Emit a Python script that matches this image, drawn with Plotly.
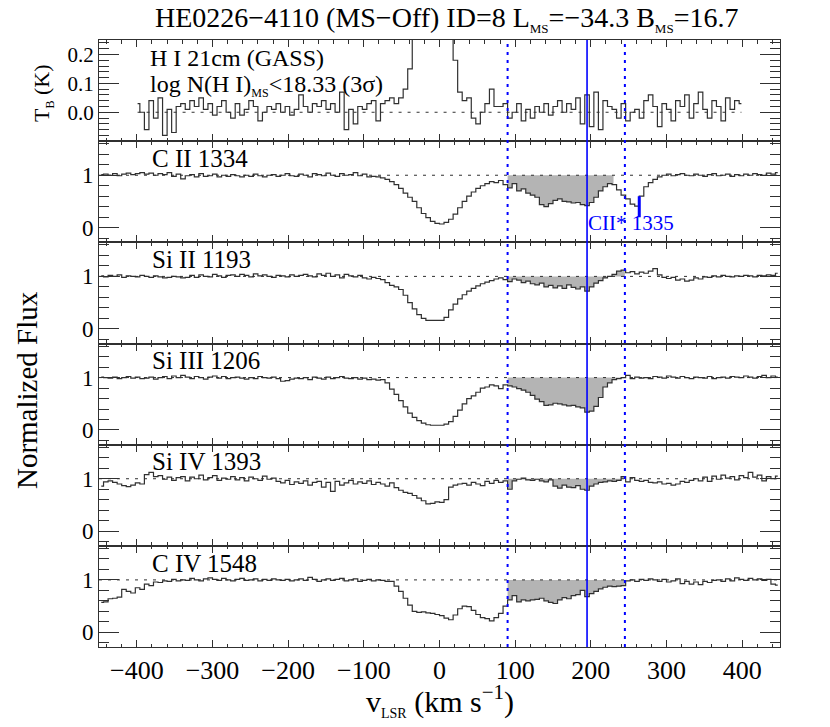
import numpy as np
import plotly.graph_objects as go
from plotly.subplots import make_subplots

# bin grids (km/s): UV spectra and GASS HI spectrum
V_START, V_STEP = -447, 6
HI_START, HI_STEP = -399, 6

# velocity window of the MS component and its centre
V_LOW, V_MID, V_HIGH = 90, 195, 245
CII_FILL_HIGH = 230          # C II integration stops before the C II* blend
CII_STAR_V = 264             # C II* 1335 position in the C II panel
CII_STAR_Y = [0.2, 0.6]

HI_TB = [
    0.03, 0.00, -0.06, 0.04, -0.02, 0.05, -0.08, 0.01, -0.07, 0.02,
    0.03, 0.01, 0.04, 0.02, 0.05, 0.01, 0.03, -0.01, 0.02, 0.04,
    0.00, -0.02, 0.03, -0.01, 0.01, 0.04, 0.02, -0.03, 0.00, 0.02,
    0.01, 0.03, 0.00, 0.02, -0.01, 0.01, 0.06, 0.02, 0.00, 0.03,
    0.02, 0.04, 0.01, 0.03, 0.00, 0.07, -0.06, 0.01, -0.04, 0.02,
    0.01, 0.03, 0.04, -0.03, 0.03, 0.04, 0.05, 0.03, 0.05, 0.08,
    0.15, 0.60, 1.40, 2.30, 3.00, 3.30, 3.10, 2.40, 1.50, 0.50,
    0.18, 0.07, 0.04, 0.05, -0.02, -0.04, 0.00, 0.03, 0.08, 0.02,
    0.02, 0.03, -0.02, 0.00, 0.03, -0.03, 0.01, -0.02, 0.02, 0.00,
    0.03, -0.01, 0.02, 0.04, 0.00, 0.03, 0.01, 0.05, -0.04, 0.06,
    -0.05, 0.07, -0.06, 0.04, 0.02, 0.01, -0.02, 0.03, -0.03, 0.00,
    0.01, -0.02, 0.04, 0.06, 0.02, -0.05, 0.03, 0.01, -0.03, 0.04,
    0.02, 0.06, -0.02, 0.03, 0.07, 0.01, -0.02, 0.04, 0.02, -0.03,
    0.05, 0.01, 0.04, 0.03,
]

CII_1334 = [
    1.01, 1.02, 1.00, 1.03, 0.99, 1.02, 1.04, 1.01, 1.03, 1.05,
    1.02, 1.04, 1.00, 1.03, 1.01, 1.05, 0.98, 1.02, 0.93, 0.99,
    1.01, 0.97, 1.03, 0.98, 0.99, 1.02, 0.97, 1.00, 0.98, 1.01,
    0.99, 0.97, 1.00, 0.98, 1.02, 0.99, 0.97, 1.00, 1.01, 0.98,
    1.00, 1.03, 0.99, 0.98, 1.02, 1.00, 0.97, 1.03, 1.01, 0.99,
    1.04, 1.00, 0.98, 1.03, 1.00, 1.01, 1.05, 0.99, 1.02, 0.97,
    0.98, 0.97, 0.95, 0.92, 0.88, 0.82, 0.75, 0.66, 0.58, 0.50,
    0.38, 0.27, 0.19, 0.12, 0.08, 0.07, 0.10, 0.16, 0.26, 0.38,
    0.50, 0.60, 0.68, 0.75, 0.80, 0.84, 0.88, 0.86, 0.90, 0.82,
    0.76, 0.84, 0.70, 0.74, 0.66, 0.62, 0.58, 0.44, 0.40, 0.46,
    0.52, 0.55, 0.50, 0.49, 0.47, 0.48, 0.44, 0.42, 0.48, 0.58,
    0.70, 0.78, 0.84, 0.82, 0.72, 0.62, 0.55, 0.45, 0.41, 0.60,
    0.78, 0.86, 0.92, 0.97, 1.00, 1.02, 0.99, 1.01, 1.03, 1.00,
    0.99, 1.02, 1.00, 0.98, 1.01, 1.03, 0.99, 1.00, 1.02, 0.98,
    1.01, 0.99, 1.02, 1.00, 1.03, 1.01, 1.00, 1.04, 1.02, 1.05,
]

SIII_1193 = [
    1.01, 0.99, 1.02, 1.00, 1.03, 0.98, 1.01, 1.00, 0.99, 1.02,
    1.00, 0.98, 1.01, 0.99, 0.97, 0.98, 1.00, 0.99, 0.97, 0.98,
    1.02, 0.98, 1.03, 1.00, 0.99, 1.04, 1.01, 0.98, 1.02, 1.03,
    1.00, 1.04, 1.02, 0.99, 1.05, 1.01, 1.03, 1.00, 0.98, 1.02,
    1.01, 0.99, 1.03, 1.00, 1.02, 1.04, 1.01, 0.99, 1.05, 1.02,
    1.06, 1.00, 1.03, 0.97, 1.04, 1.01, 0.99, 1.02, 0.97, 0.95,
    0.98, 0.96, 0.94, 0.88, 0.83, 0.80, 0.75, 0.64, 0.50, 0.38,
    0.27, 0.20, 0.16, 0.16, 0.16, 0.16, 0.22, 0.36, 0.47, 0.57,
    0.65, 0.72, 0.77, 0.82, 0.86, 0.89, 0.92, 0.95, 0.97, 0.94,
    0.90, 0.95, 0.93, 0.88, 0.91, 0.86, 0.84, 0.87, 0.80, 0.83,
    0.78, 0.82, 0.77, 0.84, 0.79, 0.76, 0.80, 0.72, 0.80, 0.87,
    0.92, 0.97, 1.00, 1.04, 1.10, 1.12, 1.07, 1.09, 1.05, 1.08,
    1.06, 1.10, 1.15, 1.03, 0.98, 0.96, 0.98, 0.93, 0.95, 0.91,
    0.93, 0.97, 0.95, 0.99, 0.98, 1.01, 0.99, 1.02, 1.00, 0.99,
    1.01, 1.00, 1.02, 1.01, 0.99, 1.02, 1.01, 1.03, 1.02, 1.06,
]

SIIII_1206 = [
    1.01, 1.00, 0.99, 1.01, 0.98, 1.00, 1.02, 0.99, 1.01, 0.98,
    0.99, 1.01, 0.97, 1.00, 1.02, 0.98, 1.03, 1.00, 1.04, 1.01,
    0.98, 1.02, 1.00, 0.97, 1.01, 1.03, 0.99, 1.02, 0.98, 1.00,
    1.01, 0.99, 0.97, 1.00, 0.98, 1.02, 1.00, 0.99, 1.01, 0.98,
    0.93, 0.94, 0.97, 0.99, 0.98, 1.00, 0.96, 1.01, 0.99, 0.97,
    1.01, 0.98, 1.00, 1.02, 0.99, 0.98, 1.00, 0.97, 0.99, 0.96,
    0.97, 0.95, 0.96, 0.90, 0.78, 0.68, 0.56, 0.44, 0.32, 0.24,
    0.18, 0.13, 0.10, 0.09, 0.09, 0.09, 0.11, 0.16, 0.26, 0.38,
    0.50, 0.60, 0.65, 0.72, 0.80, 0.82, 0.86, 0.84, 0.79, 0.86,
    0.84, 0.82, 0.79, 0.76, 0.72, 0.66, 0.59, 0.54, 0.47, 0.48,
    0.51, 0.50, 0.48, 0.46, 0.47, 0.44, 0.42, 0.34, 0.36, 0.45,
    0.62, 0.82, 0.90, 0.96, 0.98, 1.00, 1.04, 0.98, 1.01, 0.99,
    1.00, 0.98, 1.02, 1.01, 0.99, 1.03, 1.01, 0.99, 1.02, 1.00,
    0.98, 1.01, 1.00, 0.99, 1.02, 0.98, 1.00, 1.01, 0.99, 1.02,
    1.01, 1.00, 1.03, 1.01, 0.99, 1.02, 1.04, 1.00, 1.03, 1.01,
]

SIIV_1393 = [
    0.86, 0.94, 0.96, 0.93, 0.90, 0.87, 0.85, 0.88, 0.92, 0.90,
    1.08, 1.12, 1.04, 1.06, 0.99, 1.03, 0.97, 1.02, 1.04, 0.96,
    1.03, 1.00, 1.07, 0.98, 1.02, 1.06, 0.97, 1.01, 0.99, 1.04,
    0.98, 1.02, 0.96, 1.03, 1.00, 0.97, 1.05, 0.99, 1.01, 0.95,
    0.92, 0.97, 0.89, 0.94, 0.91, 0.96, 0.88, 0.93, 0.95, 0.84,
    0.93, 0.76, 0.95, 0.88, 0.92, 0.97, 0.90, 0.94, 0.91, 0.96,
    0.89, 0.93, 0.90, 0.86, 0.92, 0.83, 0.78, 0.74, 0.72, 0.68,
    0.63, 0.58, 0.52, 0.53, 0.56, 0.55, 0.60, 0.84, 0.88, 0.90,
    0.91, 0.88, 0.93, 0.90, 0.87, 0.95, 0.91, 0.97, 0.93, 0.96,
    0.80, 0.96, 0.99, 1.01, 0.98, 0.97, 0.99, 0.96, 0.94, 0.98,
    0.86, 0.82, 0.88, 0.84, 0.83, 0.87, 0.80, 0.78, 0.86, 0.90,
    0.93, 0.94, 0.96, 0.95, 0.97, 1.04, 0.94, 1.02, 0.97, 0.95,
    0.97, 0.93, 0.92, 0.94, 0.90, 0.91, 0.88, 0.90, 0.95, 0.93,
    0.97, 1.00, 0.96, 1.03, 0.95, 1.05, 0.99, 1.07, 1.01, 1.04,
    0.98, 1.06, 1.02, 1.12, 1.03, 1.07, 0.96, 1.04, 1.00, 1.05,
]

CIV_1548 = [
    0.57, 0.58, 0.64, 0.65, 0.67, 0.82, 0.78, 0.75, 0.85, 0.82,
    0.92, 0.89, 0.96, 0.95, 0.98, 0.97, 1.01, 0.98, 1.00, 0.99,
    1.03, 1.00, 0.98, 1.02, 1.04, 1.01, 0.99, 1.03, 1.00, 0.98,
    1.01, 1.03, 0.99, 1.00, 1.02, 0.98, 1.01, 0.99, 1.02, 1.00,
    0.99, 1.01, 0.98, 1.00, 1.02, 0.99, 1.05, 1.01, 0.97, 1.00,
    1.02, 0.99, 1.01, 1.03, 0.98, 1.00, 1.02, 0.97, 0.99, 1.01,
    0.98, 1.00, 0.99, 0.97, 0.97, 0.88, 0.78, 0.65, 0.52, 0.40,
    0.38, 0.39, 0.37, 0.36, 0.34, 0.32, 0.27, 0.24, 0.33, 0.45,
    0.50, 0.49, 0.42, 0.34, 0.28, 0.26, 0.22, 0.28, 0.36, 0.50,
    0.62, 0.70, 0.58, 0.62, 0.60, 0.62, 0.63, 0.65, 0.60, 0.57,
    0.55, 0.62, 0.66, 0.64, 0.70, 0.72, 0.80, 0.68, 0.74, 0.78,
    0.83, 0.86, 0.88, 0.87, 0.88, 0.89, 0.98, 1.00, 0.97, 1.01,
    0.99, 1.02, 1.00, 0.97, 1.01, 0.96, 0.98, 1.02, 0.93, 0.97,
    0.92, 0.96, 0.91, 0.97, 0.95, 0.99, 1.00, 0.97, 1.02, 0.98,
    1.04, 1.01, 0.99, 1.03, 1.00, 1.02, 0.99, 1.01, 0.92, 0.90,
]

ION_LABELS = ["C II 1334", "Si II 1193", "Si III 1206", "Si IV 1393", "C IV 1548"]
ION_FLUX = [CII_1334, SIII_1193, SIIII_1206, SIIV_1393, CIV_1548]
ION_FILL_HIGH = [CII_FILL_HIGH, V_HIGH, V_HIGH, V_HIGH, V_HIGH]

FONT = "Liberation Serif"
INK = "#303030"
BLUE = "#0000ff"
GRAY = "#b4b4b4"
SUB = '<sub><span style="font-size:{}px">{}</span></sub>'

fig = make_subplots(rows=6, cols=1, shared_xaxes=True, vertical_spacing=0)

# 1단: HI 21cm
hi_v = HI_START + HI_STEP * np.arange(len(HI_TB))
fig.add_trace(go.Scatter(x=hi_v, y=HI_TB, mode="lines",
                         line=dict(color=INK, width=1.2, shape="hvh")), row=1, col=1)
fig.add_shape(type="line", xref="x", yref="y", x0=hi_v[0], x1=hi_v[-1], y0=0, y1=0,
              line=dict(color=INK, width=1, dash="3px,6px"))

# 2-6단: absorption lines with shaded MS component
uv_v = V_START + V_STEP * np.arange(len(CII_1334))
for n, (flux, vhi) in enumerate(zip(ION_FLUX, ION_FILL_HIGH), start=2):
    flux = np.asarray(flux)
    m = (uv_v >= V_LOW) & (uv_v <= vhi)
    xs = np.concatenate([[V_LOW], uv_v[m], [vhi]])
    ys = np.concatenate([[flux[m][0]], flux[m], [flux[m][-1]]])
    fig.add_trace(go.Scatter(x=xs, y=np.ones_like(ys), mode="lines",
                             line=dict(width=0), hoverinfo="skip"), row=n, col=1)
    fig.add_trace(go.Scatter(x=xs, y=ys, mode="lines", fill="tonexty", fillcolor=GRAY,
                             line=dict(width=0, shape="hvh"), hoverinfo="skip"), row=n, col=1)
    fig.add_trace(go.Scatter(x=uv_v, y=flux, mode="lines",
                             line=dict(color=INK, width=1.2, shape="hvh")), row=n, col=1)
    fig.add_hline(y=1, line=dict(color=INK, width=1, dash="3px,6px"), row=n, col=1)

# MS velocity window (dotted) and centre (solid)
for v, dash, w in [(V_LOW, "3px,5px", 2), (V_MID, "solid", 1.6), (V_HIGH, "3px,5px", 2)]:
    fig.add_shape(type="line", xref="x", yref="paper", x0=v, x1=v, y0=0, y1=1,
                  line=dict(color=BLUE, width=w, dash=dash))

# C II* 1335 marker
fig.add_shape(type="line", xref="x2", yref="y2", x0=CII_STAR_V, x1=CII_STAR_V,
              y0=CII_STAR_Y[0], y1=CII_STAR_Y[1], line=dict(color=BLUE, width=3))
fig.add_annotation(x=V_MID, y=0.08, xref="x2", yref="y2", xanchor="left", yanchor="middle",
                   text="CII* 1335", showarrow=False, xshift=-1,
                   font=dict(family=FONT, size=21, color=BLUE))

# axes
for r in range(1, 7):
    fig.update_xaxes(
        range=[-450, 450], tickmode="linear", tick0=0, dtick=100,
        ticks="inside", ticklen=7, tickwidth=1, tickcolor=INK,
        showline=True, linecolor=INK, linewidth=1, mirror="allticks",
        showgrid=False, zeroline=False,
        minor=dict(ticks="inside", ticklen=3.5, tickmode="linear", tick0=0, dtick=20,
                   tickcolor=INK, tickwidth=1, showgrid=False),
        showticklabels=(r == 6), tickfont=dict(family=FONT, size=26, color="black"),
        row=r, col=1,
    )
fig.update_yaxes(
    range=[-0.1, 0.25], tickmode="array", tickvals=[0, 0.1, 0.2],
    ticktext=["0.0", "0.1", "0.2"], tickfont=dict(family=FONT, size=21, color="black"),
    minor=dict(ticks="inside", ticklen=10, tickmode="linear", tick0=0, dtick=0.02,
               tickcolor=INK, tickwidth=1, showgrid=False),
    row=1, col=1,
)
for r in range(2, 7):
    fig.update_yaxes(
        range=[-0.28, 1.65], tickmode="array", tickvals=[0, 1], ticktext=["0", "1"],
        tickfont=dict(family=FONT, size=23, color="black"),
        minor=dict(ticks="inside", ticklen=10, tickmode="linear", tick0=0, dtick=0.2,
                   tickcolor=INK, tickwidth=1, showgrid=False),
        row=r, col=1,
    )
fig.update_yaxes(ticks="inside", ticklen=20, tickwidth=1, tickcolor=INK,
                 showline=True, linecolor=INK, linewidth=1, mirror="allticks",
                 showgrid=False, zeroline=False)

# panel labels
fig.add_annotation(x=0.072, y=0.823, xref="paper", yref="y domain", text="H I 21cm (GASS)",
                   xanchor="left", yanchor="middle", showarrow=False,
                   font=dict(family=FONT, size=24, color="black"))
fig.add_annotation(x=0.072, y=0.55, xref="paper", yref="y domain",
                   text="log N(H I)" + SUB.format(12, "MS") + "&lt;18.33 (3σ)",
                   xanchor="left", yanchor="middle", showarrow=False,
                   font=dict(family=FONT, size=24, color="black"))
for n, label in enumerate(ION_LABELS, start=2):
    fig.add_annotation(x=0.075, y=0.83, xref="paper", yref=f"y{n} domain", text=label,
                       xanchor="left", yanchor="middle", showarrow=False,
                       font=dict(family=FONT, size=25, color="black"))

# titles
fig.add_annotation(x=0.511, y=1.034, xref="paper", yref="paper", showarrow=False,
                   xanchor="center", yanchor="middle",
                   text="HE0226−4110 (MS−Off) ID=8 L" + SUB.format(13, "MS") + "=−34.3 B"
                        + SUB.format(13, "MS") + "=16.7",
                   font=dict(family=FONT, size=28, color="black"))
fig.add_annotation(x=-0.082, y=0.913, xref="paper", yref="paper", showarrow=False,
                   xanchor="center", yanchor="middle",
                   textangle=-90, text="T" + SUB.format(12, "B") + " (K)",
                   font=dict(family=FONT, size=22, color="black"))
fig.add_annotation(x=-0.106, y=0.423, xref="paper", yref="paper", showarrow=False,
                   xanchor="center", yanchor="middle",
                   textangle=-90, text="Normalized Flux",
                   font=dict(family=FONT, size=29, color="black"))
fig.add_annotation(x=0.501, y=-0.088, xref="paper", yref="paper", showarrow=False,
                   xanchor="center", yanchor="middle",
                   text="v" + SUB.format(14, "LSR") + " (km s<sup>−1</sup>)",
                   font=dict(family=FONT, size=30, color="black"))

# page body adds an 8 px offset, so the figure is 8 px smaller and shifted back
fig.update_layout(
    width=822, height=719, showlegend=False,
    margin=dict(l=91, r=50, t=32, b=80),
    paper_bgcolor="white", plot_bgcolor="white",
)
fig.write_html("out.html")
